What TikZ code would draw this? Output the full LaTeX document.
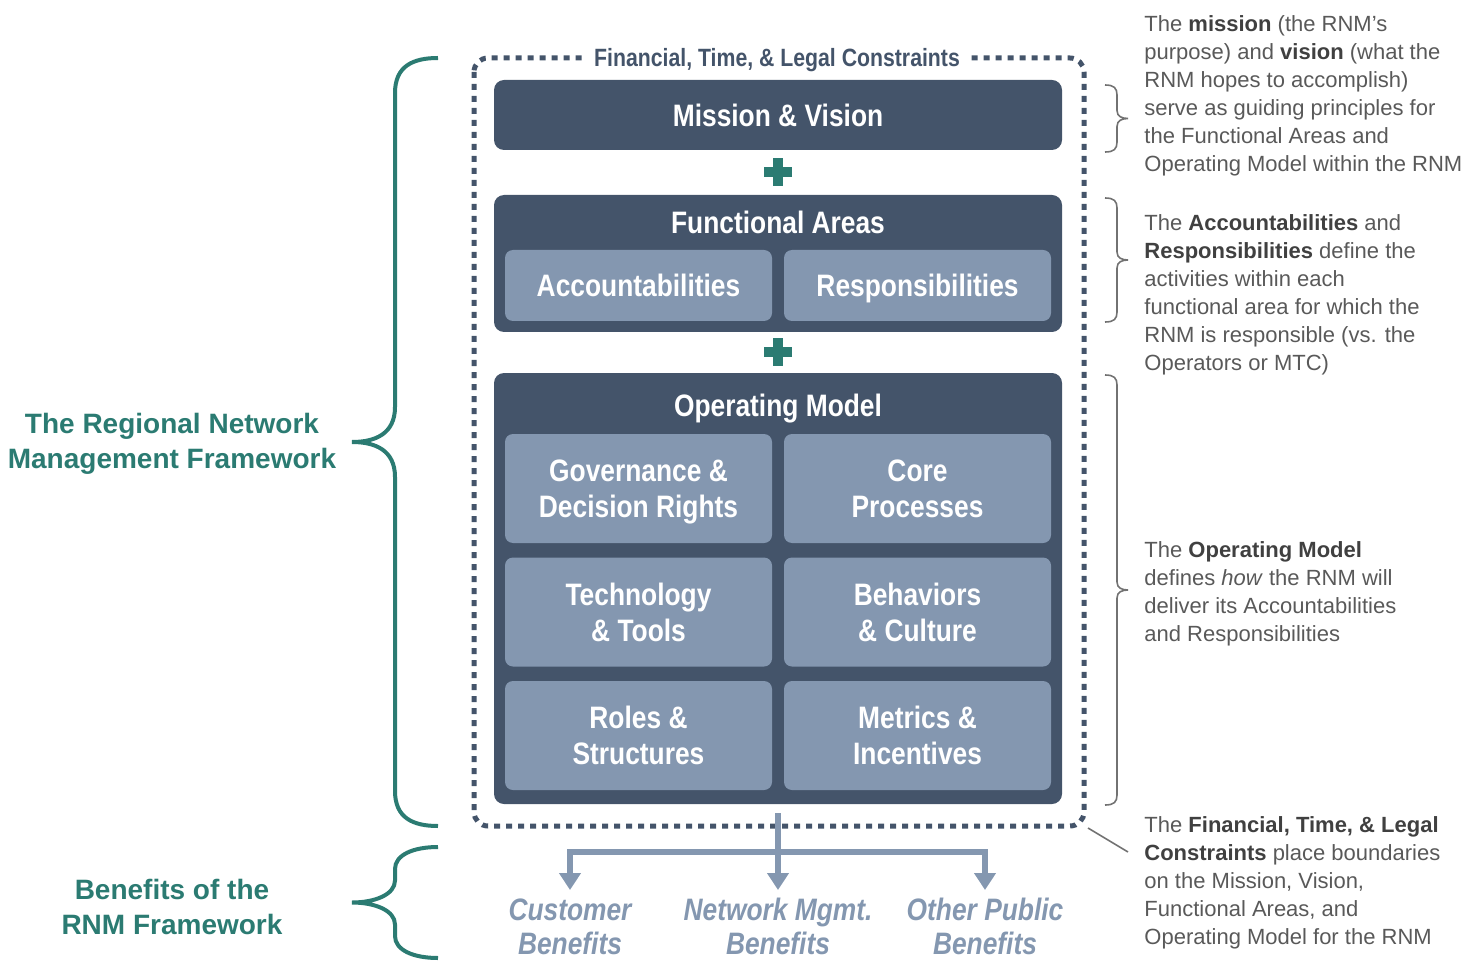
\documentclass[tikz,border=0pt]{standalone}
\usepackage{fontspec}
\setmainfont{Liberation Sans}
\newfontfamily\condfont[FakeStretch=0.85]{Liberation Sans}
\usetikzlibrary{arrows.meta}
\definecolor{slate}{HTML}{44546A}
\definecolor{steel}{HTML}{8497B0}
\definecolor{rnmteal}{HTML}{2B7B72}
\definecolor{notegray}{HTML}{595959}
\definecolor{notedark}{HTML}{404040}
\def\headtext{\condfont\bfseries\fontsize{15.5}{18}\selectfont}
\def\kw#1{{\bfseries\color{notedark}#1}}
\def\bracegroup(#1)(#2:#3:#4){\draw[groupline] (#1,#2) .. controls (#1-25,#2) and (#1-43,#2+8) .. (#1-43,#2+#4) -- (#1-43,{(#2+#3)/2-#4}) .. controls (#1-43,{(#2+#3)/2-8}) and (#1-63,{(#2+#3)/2}) .. (#1-86,{(#2+#3)/2}) .. controls (#1-63,{(#2+#3)/2}) and (#1-43,{(#2+#3)/2+8}) .. (#1-43,{(#2+#3)/2+#4}) -- (#1-43,#3-#4) .. controls (#1-43,#3-8) and (#1-25,#3) .. (#1,#3);}
\def\bracenote(#1)(#2:#3){\draw[noteline] (#1,#2) .. controls (#1+9,#2) and (#1+12,#2+3) .. (#1+12,#2+10) -- (#1+12,{(#2+#3)/2-8}) .. controls (#1+12,{(#2+#3)/2-2}) and (#1+17,{(#2+#3)/2}) .. (#1+23,{(#2+#3)/2}) .. controls (#1+17,{(#2+#3)/2}) and (#1+12,{(#2+#3)/2+2}) .. (#1+12,{(#2+#3)/2+8}) -- (#1+12,#3-10) .. controls (#1+12,#3-3) and (#1+9,#3) .. (#1,#3);}
\tikzset{
	outerbox/.style={fill=slate, rounded corners=5pt, inner sep=0pt, minimum width=284pt},
	innerbox/.style={fill=steel, rounded corners=4pt, inner sep=0pt, minimum width=133.5pt, text=white, align=center, text depth=0pt, font=\headtext},
	boxtitle/.style={text=white, font=\headtext, anchor=base, inner sep=0pt},
	plusbar/.style={fill=rnmteal},
	constraint/.style={draw=slate, line width=2.5pt, dash pattern=on 3pt off 3pt, rounded corners=7pt},
	benefit/.style={text=steel, align=center, font={\condfont\bfseries\itshape\fontsize{15.5}{17}\selectfont}, anchor=north, inner xsep=0pt, inner ysep=4pt},
	benefitarrow/.style={draw=steel, line width=3pt, -{Triangle[width=10.5pt,length=8.5pt]}},
	groupline/.style={draw=rnmteal, line width=2pt},
	grouplabel/.style={text=rnmteal, align=center, font=\bfseries\fontsize{14}{17.5}\selectfont},
	noteline/.style={draw=notegray!85, line width=0.8pt},
	note/.style={text=notegray, align=left, anchor=north west, inner sep=0pt, font=\fontsize{11}{14}\selectfont}
}
\begin{document}
\begin{tikzpicture}[x=0.5pt, y=-0.5pt]
		%%%%% START %%%%%
		\useasboundingbox (0,0) rectangle (1476,962);
		
		\draw[constraint] (474,58) rectangle (1084,826);
		\node[fill=white, inner xsep=4pt, inner ysep=1pt, text=slate, font={\condfont\bfseries\fontsize{12.5}{14}\selectfont}] (limits) at (777,60) {Financial, Time, \& Legal Constraints};
		
		\node[outerbox, minimum height=35pt, text=white, font=\headtext] (mission) at (778,115) {Mission \& Vision};
		\fill[plusbar] (764,167) rectangle (792,177);
		\fill[plusbar] (773,158) rectangle (783,186);
		
		\node[outerbox, minimum height=68.5pt] (functional) at (778,263.5) {};
		\node[boxtitle] (functitle) at (778,234) {Functional Areas};
		\node[innerbox, minimum height=35.5pt] (account) at (638.5,285.5) {Accountabilities};
		\node[innerbox, minimum height=35.5pt] (respons) at (917.5,285.5) {Responsibilities};
		\fill[plusbar] (764,347) rectangle (792,357);
		\fill[plusbar] (773,338) rectangle (783,366);
		
		\node[outerbox, minimum height=215.5pt] (operating) at (778,588.5) {};
		\node[boxtitle] (opertitle) at (778,416) {Operating Model};
		\node[innerbox, minimum height=54.5pt] (govern) at (638.5,488.5) {Governance \&\\Decision Rights};
		\node[innerbox, minimum height=54.5pt] (process) at (917.5,488.5) {Core\\Processes};
		\node[innerbox, minimum height=54.5pt] (techno) at (638.5,612) {Technology\\\& Tools};
		\node[innerbox, minimum height=54.5pt] (culture) at (917.5,612) {Behaviors\\\& Culture};
		\node[innerbox, minimum height=54.5pt] (roles) at (638.5,735.5) {Roles \&\\Structures};
		\node[innerbox, minimum height=54.5pt] (metrics) at (917.5,735.5) {Metrics \&\\Incentives};
		
		\node[benefit] (custben) at (570,890) {Customer\\Benefits};
		\node[benefit] (netben) at (778,890) {Network Mgmt.\\Benefits};
		\node[benefit] (pubben) at (985,890) {Other Public\\Benefits};
		\coordinate (busin) at (778,813);
		\coordinate (busmid) at (778,852);
		\draw[benefitarrow] (busin) -- (netben.north);
		\draw[benefitarrow] (busmid) -| (custben.north);
		\draw[benefitarrow] (busmid) -| (pubben.north);
		
		\bracegroup(438)(58:826:35)
		\bracegroup(438)(847:958:22)
		\node[grouplabel] (rnmframe) at (172,444) {The Regional Network\\Management Framework};
		\node[grouplabel] (rnmbenefit) at (172,907) {Benefits of the\\RNM Framework};
		
		\bracenote(1105)(85:152)
		\bracenote(1105)(198:322)
		\bracenote(1105)(375:805)
		\coordinate (framecorner) at (1088,828);
		\coordinate (noteend) at (1128,852);
		\draw[noteline] (framecorner) -- (noteend);
		
		\node[note] (missionnote) at (1144,15) {The \kw{mission} (the RNM’s\\purpose) and \kw{vision} (what the\\RNM hopes to accomplish)\\serve as guiding principles for\\the Functional Areas and\\Operating Model within the RNM};
		\node[note] (areanote) at (1144,214) {The \kw{Accountabilities} and\\\kw{Responsibilities} define the\\activities within each\\functional area for which the\\RNM is responsible (vs. the\\Operators or MTC)};
		\node[note] (modelnote) at (1144,541) {The \kw{Operating Model}\\defines \textit{how} the RNM will\\deliver its Accountabilities\\and Responsibilities};
		\node[note] (limitnote) at (1144,816) {The \kw{Financial, Time, \& Legal}\\\kw{Constraints} place boundaries\\on the Mission, Vision,\\Functional Areas, and\\Operating Model for the RNM};
		
		%%%%% END %%%%%
	\end{tikzpicture}
\end{document}
